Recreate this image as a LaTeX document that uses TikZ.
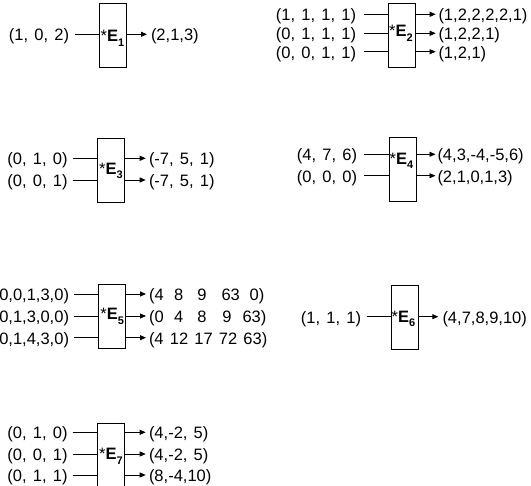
\documentclass[tikz,border=0pt]{standalone}
\usepackage{fontspec}
\setmainfont[WordSpace=1.35]{Liberation Sans}
\usetikzlibrary{arrows.meta}
\newcommand\ecell[2]{\makebox[#1pt][r]{#2}}
\newcommand\esub[1]{*\textbf{E}\raisebox{-4.5pt}{\fontsize{11}{11}\selectfont\bfseries #1}}
\begin{document}
\begin{tikzpicture}[x=1pt,y=-1pt,
  lbl/.style={font=\fontsize{16.5}{19}\selectfont, inner sep=0pt, outer sep=0pt, text height=13pt, text depth=0pt},
  ebox/.style={draw, line width=0.9pt, minimum width=27pt, minimum height=64pt, inner sep=0pt},
  etxt/.style={font=\fontsize{16.5}{19}\selectfont, inner sep=0pt, anchor=base west},
  wire/.style={line width=0.9pt},
  arr/.style={line width=0.9pt, -{Triangle[length=6pt,width=5pt]}}]
\useasboundingbox (0,0) rectangle (531,486);
\clip (0,0) rectangle (531,486);

% E1
\node[ebox] (E1) at (112.5,35) {};
\node[etxt] (t1) at (100.5,42) {\esub{1}};
\node[lbl, anchor=east] (a11) at (69,34.3) {(1, 0, 2)};
\node[lbl, anchor=west] (b11) at (151,34.3) {(2,1,3)};
\draw[wire] ([xshift=6pt]a11.east) -- (a11.east -| E1.west);
\draw[arr] (E1.east |- b11.west) -- ([xshift=-4pt]b11.west);

% E2
\node[ebox] (E2) at (401.5,35) {};
\node[etxt] (t2) at (389,37) {\esub{2}};
\node[lbl, anchor=east] (a21) at (356,14.3) {(1, 1, 1, 1)};
\node[lbl, anchor=east] (a22) at (356,33.3) {(0, 1, 1, 1)};
\node[lbl, anchor=east] (a23) at (356,51.7) {(0, 0, 1, 1)};
\node[lbl, anchor=west] (b21) at (438.5,14.3) {(1,2,2,2,2,1)};
\node[lbl, anchor=west] (b22) at (438.5,33.3) {(1,2,2,1)};
\node[lbl, anchor=west] (b23) at (438.5,51.7) {(1,2,1)};
\foreach \i in {1,2,3}{
  \draw[wire] ([xshift=8pt]a2\i.east) -- (a2\i.east -| E2.west);
  \draw[arr] (E2.east |- b2\i.west) -- ([xshift=-2.8pt]b2\i.west);
}

% E3
\node[ebox] (E3) at (110.5,170) {};
\node[etxt] (t3) at (99,174.3) {\esub{3}};
\node[lbl, anchor=east] (a31) at (67.5,158.3) {(0, 1, 0)};
\node[lbl, anchor=east] (a32) at (67.5,180) {(0, 0, 1)};
\node[lbl, anchor=west] (b31) at (149,158.3) {(-7, 5, 1)};
\node[lbl, anchor=west] (b32) at (149,180) {(-7, 5, 1)};
\foreach \i in {1,2}{
  \draw[wire] ([xshift=5.2pt]a3\i.east) -- (a3\i.east -| E3.west);
  \draw[arr] (E3.east |- b3\i.west) -- ([xshift=-3.3pt]b3\i.west);
}

% E4
\node[ebox] (E4) at (402.5,169.5) {};
\node[etxt] (t4) at (389.5,164.3) {\esub{4}};
\node[lbl, anchor=east] (a41) at (357,154.3) {(4, 7, 6)};
\node[lbl, anchor=east] (a42) at (357,175.7) {(0, 0, 0)};
\node[lbl, anchor=west] (b41) at (437.5,154.3) {(4,3,-4,-5,6)};
\node[lbl, anchor=west] (b42) at (437.5,175.7) {(2,1,0,1,3)};
\foreach \i in {1,2}{
  \draw[wire] ([xshift=7.3pt]a4\i.east) -- (a4\i.east -| E4.west);
  \draw[arr] (E4.east |- b4\i.west) -- ([xshift=-2pt]b4\i.west);
}

% E5
\node[ebox] (E5) at (112,316.5) {};
\node[etxt] (t5) at (100.2,320) {\esub{5}};
\node[lbl, anchor=east] (a51) at (69,294) {(0,0,1,3,0)};
\node[lbl, anchor=east] (a52) at (69,316) {(0,1,3,0,0)};
\node[lbl, anchor=east] (a53) at (69,337.7) {(0,1,4,3,0)};
\node[lbl, anchor=west] (b51) at (149,294) {(\ecell{9.2}{4}\ecell{19.5}{8}\ecell{23.4}{9}\ecell{33.3}{63}\ecell{19}{0})};
\node[lbl, anchor=west] (b52) at (149,316) {(\ecell{9.2}{0}\ecell{19.5}{4}\ecell{23.4}{8}\ecell{25}{9}\ecell{29.3}{63})};
\node[lbl, anchor=west] (b53) at (149,337.7) {(4 12 17 72 63)};
\foreach \i in {1,2,3}{
  \draw[wire] ([xshift=5pt]a5\i.east) -- (a5\i.east -| E5.west);
  \draw[arr] (E5.east |- b5\i.west) -- ([xshift=-3pt]b5\i.west);
}

% E6
\node[ebox] (E6) at (404.5,317.5) {};
\node[etxt] (t6) at (391.5,322.5) {\esub{6}};
\node[lbl, anchor=east] (a61) at (361,316.7) {(1, 1, 1)};
\node[lbl, anchor=west] (b61) at (442.5,316.7) {(4,7,8,9,10)};
\draw[wire] ([xshift=5.7pt]a61.east) -- (a61.east -| E6.west);
\draw[arr] (E6.east |- b61.west) -- ([xshift=-4.2pt]b61.west);

% E7
\node[ebox] (E7) at (110.5,455) {};
\node[etxt] (t7) at (99,460) {\esub{7}};
\node[lbl, anchor=east] (a71) at (67.5,432.3) {(0, 1, 0)};
\node[lbl, anchor=east] (a72) at (67.5,454) {(0, 0, 1)};
\node[lbl, anchor=east] (a73) at (67.5,475) {(0, 1, 1)};
\node[lbl, anchor=west] (b71) at (149,432.3) {(4,-2, 5)};
\node[lbl, anchor=west] (b72) at (149,454) {(4,-2, 5)};
\node[lbl, anchor=west] (b73) at (149,475) {(8,-4,10)};
\foreach \i in {1,2,3}{
  \draw[wire] ([xshift=5.2pt]a7\i.east) -- (a7\i.east -| E7.west);
  \draw[arr] (E7.east |- b7\i.west) -- ([xshift=-3.3pt]b7\i.west);
}
\end{tikzpicture}
\end{document}
